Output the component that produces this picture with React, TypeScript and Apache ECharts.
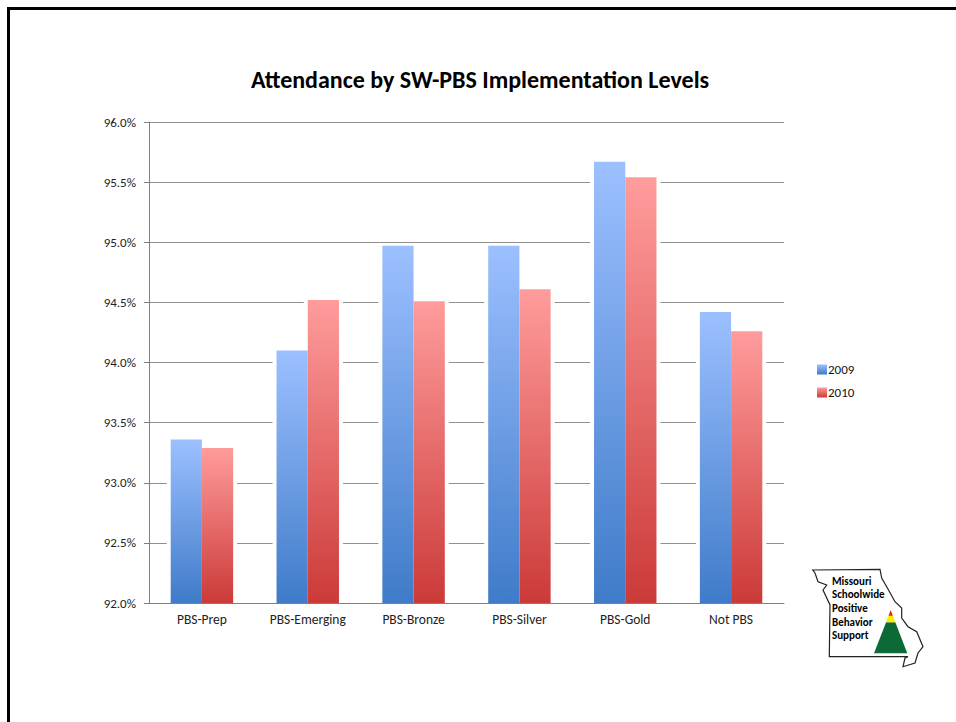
import React, { useEffect, useRef } from "react";
import * as echarts from "echarts";

const categories = ["PBS-Prep", "PBS-Emerging", "PBS-Bronze", "PBS-Silver", "PBS-Gold", "Not PBS"];
const values2009 = [93.36, 94.1, 94.97, 94.97, 95.67, 94.42];
const values2010 = [93.29, 94.52, 94.51, 94.61, 95.54, 94.26];
const logoLines = ["Missouri", "Schoolwide", "Positive", "Behavior", "Support"];

const FONT = "Carlito, Calibri, 'Open Sans', 'Noto Sans', sans-serif";
const STATE_PATH =
  "M812.7 570 L880 569.3 L881.7 578 L886.7 586.7 L895 601.7 L901.7 608 L901.7 618 L908 626.7 L916.7 631.7 L923 646.7 L918 653 L915 663 L903 666.7 L905 658 L908 656.7 L829.3 656.7 L830 605 L823 590 L826.7 585 L818 581.7 L815 573 Z";

echarts.graphic.registerShape("moState", echarts.graphic.extendPath(STATE_PATH, {}));

const fill = (top: string, bottom: string) => ({
  type: "linear", x: 0, y: 0, x2: 0, y2: 1,
  colorStops: [{ offset: 0, color: top }, { offset: 1, color: bottom }],
});
const BAR_GAP = "41%";
const halo = (name: string, data: number[]) => ({
  name, type: "bar", data, xAxisIndex: 1, yAxisIndex: 1, barWidth: 39.2, barGap: "-20.4%", z: 1,
  silent: true, itemStyle: { color: "#fff" },
});

export default function App() {
  const ref = useRef<HTMLDivElement>(null);
  useEffect(() => {
    const chart = echarts.init(ref.current!, null, { renderer: "svg" });
    chart.setOption({
      animation: false,
      backgroundColor: "#fff",
      title: {
        text: "Attendance by SW-PBS Implementation Levels",
        left: 475, top: 62, textAlign: "center",
        textStyle: { fontFamily: FONT, fontSize: 24, fontWeight: "bold", color: "#000" },
      },
      grid: { left: 149, right: 172, top: 122, bottom: 119 },
      legend: {
        orient: "vertical", left: 812, top: 358, itemWidth: 10, itemHeight: 10, itemGap: 10, icon: "rect",
        textStyle: { fontFamily: FONT, fontSize: 13, color: "#111", padding: [0, 0, 0, -4] },
        data: ["2009", "2010"],
      },
      xAxis: [
        {
          type: "category", data: categories, z: 3,
          axisLine: { lineStyle: { color: "#808080" } },
          axisTick: { length: 5, lineStyle: { color: "#808080" } },
          axisLabel: { fontFamily: FONT, fontSize: 13.5, color: "#222", margin: 9 },
        },
        { type: "category", data: categories, show: false },
      ],
      yAxis: [
        {
          type: "value", min: 92, max: 96, interval: 0.5,
          axisLine: { show: true, lineStyle: { color: "#808080" } },
          axisTick: { show: true, length: 5, lineStyle: { color: "#808080" } },
          axisLabel: { fontFamily: FONT, fontSize: 13, color: "#222", margin: 13, formatter: (v: number) => v.toFixed(1) + "%" },
          splitLine: { lineStyle: { color: "#909090" } },
        },
        { type: "value", min: 92, max: 96, interval: 0.5, show: false, splitLine: { show: false } },
      ],
      series: [
        halo("halo2009", values2009),
        halo("halo2010", values2010),
        { name: "2009", type: "bar", data: values2009, barGap: 0, barCategoryGap: BAR_GAP, z: 2, itemStyle: { color: fill("#9cc0ff", "#3f7bc9") } },
        { name: "2010", type: "bar", data: values2010, barGap: 0, barCategoryGap: BAR_GAP, z: 2, itemStyle: { color: fill("#ff9c9c", "#cb3a38") } },
      ],
      graphic: [
        { type: "rect", shape: { x: 8.5, y: 8.5, width: 960, height: 730 }, style: { fill: "none", stroke: "#000", lineWidth: 3 }, silent: true },
        { type: "moState", style: { fill: "#fff", stroke: "#222", lineWidth: 1.2 }, silent: true },
        { type: "polygon", shape: { points: [[874, 653.3], [886.1, 622.3], [895.3, 622.3], [907.3, 653.3]] }, style: { fill: "#0b6a35" }, silent: true },
        { type: "polygon", shape: { points: [[886.1, 622.3], [888.5, 615.7], [892.9, 615.7], [895.3, 622.3]] }, style: { fill: "#ffee00" }, silent: true },
        { type: "polygon", shape: { points: [[888.5, 615.7], [890.7, 610], [892.9, 615.7]] }, style: { fill: "#d9261c" }, silent: true },
        ...logoLines.map((t, i) => ({
          type: "text", left: 832, top: 575.5 + i * 13.7,
          style: { text: t, fontFamily: FONT, fontSize: 11, fontWeight: "bold", fill: "#000" }, silent: true,
        })),
      ],
    });
    return () => chart.dispose();
  }, []);
  return <div ref={ref} style={{ width: 956, height: 722, position: "absolute", left: 0, top: 0 }} />;
}
